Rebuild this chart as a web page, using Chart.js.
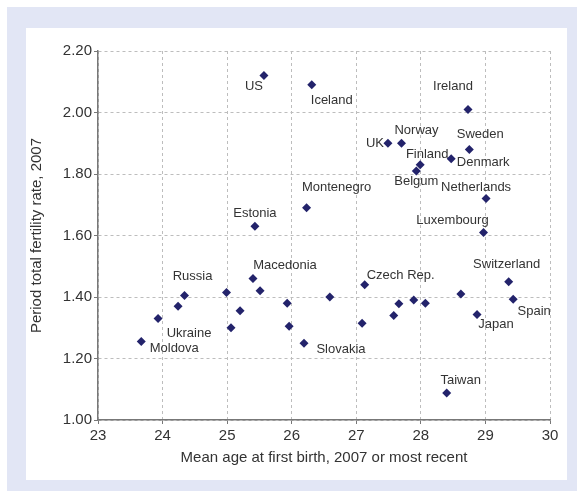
<!DOCTYPE html>
<html>
<head>
<meta charset="utf-8">
<script src="https://cdn.jsdelivr.net/npm/chart.js@4/dist/chart.umd.min.js"></script>
<style>
  html, body { margin: 0; padding: 0; background: #fff; }
  #frame { position: absolute; left: 7px; top: 7px; width: 570px; height: 484px; background: #e2e6f5; }
  #panel { position: absolute; left: 26px; top: 28px; width: 541px; height: 452px; background: #fff; }
  #wrap { position: absolute; left: 0; top: 0; width: 577px; height: 491px; }
</style>
</head>
<body>
<div id="frame"></div>
<div id="panel"></div>
<div id="wrap"><canvas id="fertilityChart" width="577" height="491"></canvas></div>
<script>
// data
const countries = ['US', 'Iceland', 'Ireland', 'UK', 'Norway', 'Sweden', 'Denmark', 'Finland', 'Belgum',
    'Netherlands', 'Luxembourg', 'Montenegro', 'Estonia', 'Macedonia', '', '', 'Russia', '', 'Ukraine',
    'Moldova', '', '', '', '', 'Slovakia', '', 'Czech Rep.', '', '', '', '', '', '', 'Japan',
    'Switzerland', 'Spain', 'Taiwan'];
const meanAge = [25.57, 26.31, 28.73, 27.49, 27.70, 28.75, 28.47, 27.99, 27.93,
    29.01, 28.97, 26.23, 25.43, 25.40, 25.51, 24.99, 24.34, 24.24, 23.93,
    23.67, 25.20, 25.06, 25.93, 25.96, 26.19, 26.59, 27.13, 27.09, 27.58, 27.66, 27.89, 28.07, 28.62, 28.87,
    29.36, 29.43, 28.40];
const fertilityRate = [2.12, 2.09, 2.01, 1.90, 1.90, 1.88, 1.85, 1.83, 1.81,
    1.72, 1.61, 1.69, 1.63, 1.46, 1.42, 1.415, 1.405, 1.37, 1.33,
    1.255, 1.355, 1.30, 1.38, 1.305, 1.25, 1.40, 1.44, 1.315, 1.34, 1.378, 1.39, 1.38, 1.41, 1.343,
    1.45, 1.393, 1.088];
const xTicks = [23, 24, 25, 26, 27, 28, 29, 30];
const yTicks = [1.00, 1.20, 1.40, 1.60, 1.80, 2.00, 2.20];
const yTickLabels = ['1.00', '1.20', '1.40', '1.60', '1.80', '2.00', '2.20'];

// where each name sits relative to its marker (label centre, px)
const labelOffsets = {
    'US': [-10, 11], 'Iceland': [20, 16], 'Ireland': [-15, -23], 'UK': [-13, 0], 'Norway': [15, -13],
    'Sweden': [11, -15], 'Denmark': [32, 4], 'Finland': [7, -10], 'Belgum': [0, 10],
    'Netherlands': [-10, -11], 'Luxembourg': [-31, -12], 'Montenegro': [30, -20], 'Estonia': [0, -13],
    'Macedonia': [32, -13], 'Russia': [8, -19], 'Ukraine': [31, 15], 'Moldova': [33, 7],
    'Slovakia': [37, 6], 'Czech Rep.': [36, -9], 'Switzerland': [-2, -17], 'Spain': [21, 12],
    'Japan': [19, 10], 'Taiwan': [14, -13]
};

const pointLabels = {
    id: 'pointLabels',
    afterDatasetsDraw(chart) {
        const ctx = chart.ctx;
        const meta = chart.getDatasetMeta(0);
        ctx.save();
        ctx.font = '13px "Liberation Sans", Arial, sans-serif';
        ctx.fillStyle = '#333';
        ctx.textAlign = 'center';
        ctx.textBaseline = 'middle';
        meta.data.forEach(function (pt, i) {
            const name = countries[i];
            if (!name) return;
            const off = labelOffsets[name] || [0, -12];
            ctx.fillText(name, pt.x + off[0], pt.y + off[1]);
        });
        ctx.restore();
    }
};

const axisFont = { family: '"Liberation Sans", Arial, sans-serif', size: 15 };

new Chart(document.getElementById('fertilityChart').getContext('2d'), {
    type: 'scatter',
    data: {
        datasets: [{
            data: meanAge.map(function (x, i) { return { x: x, y: fertilityRate[i] }; }),
            pointStyle: 'rectRot',
            pointRadius: 4.5,
            pointHoverRadius: 4.5,
            backgroundColor: '#23236b',
            borderColor: '#23236b',
            borderWidth: 0
        }]
    },
    options: {
        responsive: false,
        animation: false,
        layout: { padding: { left: 26, top: 51, right: 27, bottom: 11 } },
        plugins: {
            legend: { display: false },
            tooltip: { enabled: false }
        },
        scales: {
            x: {
                type: 'linear',
                min: 23,
                max: 30,
                afterBuildTicks: function (axis) { axis.ticks = xTicks.map(function (v) { return { value: v }; }); },
                afterFit: function (axis) { axis.height = 60; },
                ticks: { color: '#333', font: axisFont, padding: 3, maxRotation: 0 },
                grid: { color: '#bdbdbd', lineWidth: 1, tickLength: 4, tickColor: '#777' },
                border: { color: '#777', width: 1.5, dash: [3, 3] },
                title: {
                    display: true,
                    text: 'Mean age at first birth, 2007 or most recent',
                    color: '#333',
                    font: axisFont,
                    padding: { top: 0, bottom: 13 }
                }
            },
            y: {
                type: 'linear',
                min: 1,
                max: 2.2,
                afterBuildTicks: function (axis) { axis.ticks = yTicks.map(function (v) { return { value: v }; }); },
                afterFit: function (axis) { axis.width = 72; },
                ticks: {
                    color: '#333',
                    font: axisFont,
                    padding: 2,
                    callback: function (v, i) { return yTickLabels[i]; }
                },
                grid: { color: '#bdbdbd', lineWidth: 1, tickLength: 4, tickColor: '#777' },
                border: { color: '#777', width: 1.5, dash: [3, 3] },
                title: {
                    display: true,
                    text: 'Period total fertility rate, 2007',
                    color: '#333',
                    font: axisFont,
                    padding: { top: 2, bottom: 0 }
                }
            }
        }
    },
    plugins: [pointLabels]
});
</script>
</body>
</html>
